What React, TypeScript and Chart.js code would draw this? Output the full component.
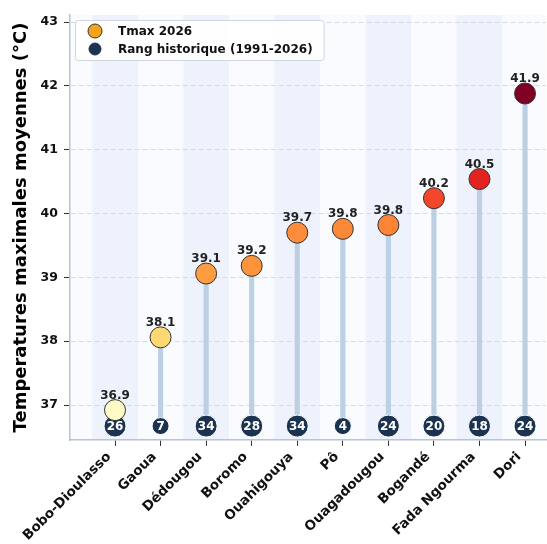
import React, { useEffect, useRef } from "react";
import { Chart, registerables } from "chart.js";

Chart.register(...registerables);

const stations = ["Bobo-Dioulasso", "Gaoua", "Dédougou", "Boromo", "Ouahigouya", "Pô", "Ouagadougou", "Bogandé", "Fada Ngourma", "Dori"];
const tmax2026 = [36.92, 38.06, 39.06, 39.18, 39.7, 39.76, 39.82, 40.24, 40.54, 41.88];
const historicalRank = [26, 7, 34, 28, 34, 4, 24, 20, 18, 24];
const yTickValues = [37, 38, 39, 40, 41, 42, 43];
const pointColors = ["#fffbc4", "#fed873", "#fd9c40", "#fd933b", "#fd8d3c", "#fc8938", "#fc8434", "#f4462a", "#e2231f", "#800026"];
const seriesLabels = ["Tmax 2026", "Rang historique (1991-2026)"];
const yTitle = "Temperatures maximales moyennes (°C)";

const FONT = "'DejaVu Sans', 'Liberation Sans', sans-serif";
const RANK_Y = 36.67;
const Y_MIN = 36.452;
const Y_MAX = 43.11;
const X_MIN = -0.988;
const X_MAX = 9.46;
const VIEW_W = 547;
const VIEW_H = 544;
const CANVAS_W = 558;

const decorPlugin = {
  id: "decor",
  beforeDraw(chart: any) {
    const { ctx, chartArea: a, scales } = chart;
    const x = scales.x;
    ctx.save();
    ctx.fillStyle = "#f9fbff";
    ctx.fillRect(a.left, a.top, a.right - a.left, a.bottom - a.top);
    ctx.fillStyle = "#edf2fc";
    stations.forEach((_, i) => {
      if (i % 2 === 0) {
        const l = Math.max(a.left, x.getPixelForValue(i - 0.5));
        const r = Math.min(a.right, x.getPixelForValue(i + 0.5));
        ctx.fillRect(l, a.top, r - l, a.bottom - a.top);
      }
    });
    ctx.restore();
  },
  afterDatasetsDraw(chart: any) {
    const { ctx } = chart;
    ctx.save();
    const vMeta = chart.getDatasetMeta(1);
    ctx.font = `bold 12px ${FONT}`;
    ctx.fillStyle = "#222222";
    ctx.textAlign = "center";
    ctx.textBaseline = "middle";
    vMeta.data.forEach((pt: any, i: number) => {
      ctx.fillText(tmax2026[i].toFixed(1), pt.x, pt.y - 14.5);
    });
    const rMeta = chart.getDatasetMeta(2);
    ctx.font = `bold 12px ${FONT}`;
    ctx.fillStyle = "#ffffff";
    rMeta.data.forEach((pt: any, i: number) => {
      ctx.fillText(String(historicalRank[i]), pt.x, pt.y + 0.5);
    });
    ctx.restore();
  },
  afterDraw(chart: any) {
    const { ctx, chartArea: a } = chart;
    ctx.save();
    ctx.font = `bold 12px ${FONT}`;
    const tw = Math.max(...seriesLabels.map((s) => ctx.measureText(s).width));
    const bx = a.left + 5;
    const by = a.top + 5;
    const bw = 43 + tw + 11;
    const bh = 40;
    ctx.beginPath();
    (ctx as any).roundRect(bx + 0.5, by + 0.5, bw, bh, 3);
    ctx.fillStyle = "rgba(255,255,255,0.9)";
    ctx.fill();
    ctx.strokeStyle = "#d0d5dd";
    ctx.lineWidth = 1;
    ctx.stroke();
    const items = [
      { color: "#f7a21b", r: 7, border: "#333333" },
      { color: "#1b3350", r: 6, border: "#1b3350" },
    ];
    items.forEach((it, i) => {
      const cy = by + 11 + i * 18;
      ctx.beginPath();
      ctx.arc(bx + 20, cy, it.r, 0, Math.PI * 2);
      ctx.fillStyle = it.color;
      ctx.fill();
      ctx.strokeStyle = it.border;
      ctx.lineWidth = 1;
      ctx.stroke();
      ctx.fillStyle = "#111111";
      ctx.textAlign = "left";
      ctx.textBaseline = "middle";
      ctx.fillText(seriesLabels[i], bx + 43, cy + 0.5);
    });
    ctx.restore();
  },
};

export default function App() {
  const ref = useRef<HTMLCanvasElement | null>(null);
  useEffect(() => {
    document.body.style.margin = "0";
    const canvas = ref.current;
    if (!canvas) return;
    const chart = new Chart(canvas, {
      type: "scatter",
      data: {
        datasets: [
          {
            type: "bar",
            label: "stems",
            data: stations.map((_, i) => ({ x: i, y: [RANK_Y, tmax2026[i]] })) as any,
            backgroundColor: "#bdd0e3",
            borderWidth: 0,
            barThickness: 4.5,
            order: 3,
          } as any,
          {
            type: "scatter",
            label: seriesLabels[0],
            data: stations.map((_, i) => ({ x: i, y: tmax2026[i] })),
            backgroundColor: pointColors,
            borderColor: "#333333",
            borderWidth: 1,
            pointRadius: 10.5,
            order: 1,
          },
          {
            type: "scatter",
            label: seriesLabels[1],
            data: stations.map((_, i) => ({ x: i, y: RANK_Y })),
            backgroundColor: "#1b3350",
            borderColor: "#ffffff",
            borderWidth: 1,
            pointRadius: historicalRank.map((r) => (String(r).length > 1 ? 11 : 8.5)),
            order: 2,
          },
        ],
      },
      options: {
        responsive: false,
        animation: false,
        events: [],
        layout: { padding: { left: 0, top: 15, right: 0, bottom: 0 } },
        plugins: { legend: { display: false }, tooltip: { enabled: false } },
        scales: {
          x: {
            type: "linear",
            offset: false,
            min: X_MIN,
            max: X_MAX,
            afterBuildTicks: (s: any) => {
              s.ticks = stations.map((_, i) => ({ value: i }));
            },
            afterFit: (s: any) => {
              s.height = 104;
              s.paddingLeft = 0;
              s.paddingRight = 0;
            },
            ticks: {
              autoSkip: false,
              maxRotation: 45,
              minRotation: 45,
              padding: 3,
              labelOffset: -6,
              color: "#111111",
              font: { family: FONT, size: 13.5, weight: "bold" },
              callback: (v: any) => stations[Math.round(Number(v))] ?? "",
            },
            grid: {
              offset: false,
              drawOnChartArea: false,
              drawTicks: true,
              tickLength: 6,
              tickColor: "#333333",
            },
            border: { color: "#b8c3d3", width: 1.5 },
          },
          y: {
            type: "linear",
            min: Y_MIN,
            max: Y_MAX,
            afterBuildTicks: (s: any) => {
              s.ticks = yTickValues.map((v) => ({ value: v }));
            },
            afterFit: (s: any) => {
              s.width = 70;
            },
            ticks: {
              padding: 6,
              color: "#111111",
              font: { family: FONT, size: 12.5, weight: "bold" },
            },
            grid: {
              color: "#d6dbe3",
              tickBorderDash: [],
              tickColor: "#333333",
              tickLength: 6,
            } as any,
            border: { color: "#b8c3d3", width: 1.5, dash: [5, 3] } as any,
            title: {
              display: true,
              text: yTitle,
              color: "#000000",
              font: { family: FONT, size: 18, weight: "bold" },
              padding: { top: 11, bottom: 0 },
            },
          },
        },
      },
      plugins: [decorPlugin],
    });
    return () => chart.destroy();
  }, []);
  return (
    <div style={{ width: VIEW_W, height: VIEW_H, position: "relative", overflow: "hidden" }}>
      <canvas ref={ref} width={CANVAS_W} height={VIEW_H} style={{ display: "block" }} />
    </div>
  );
}
